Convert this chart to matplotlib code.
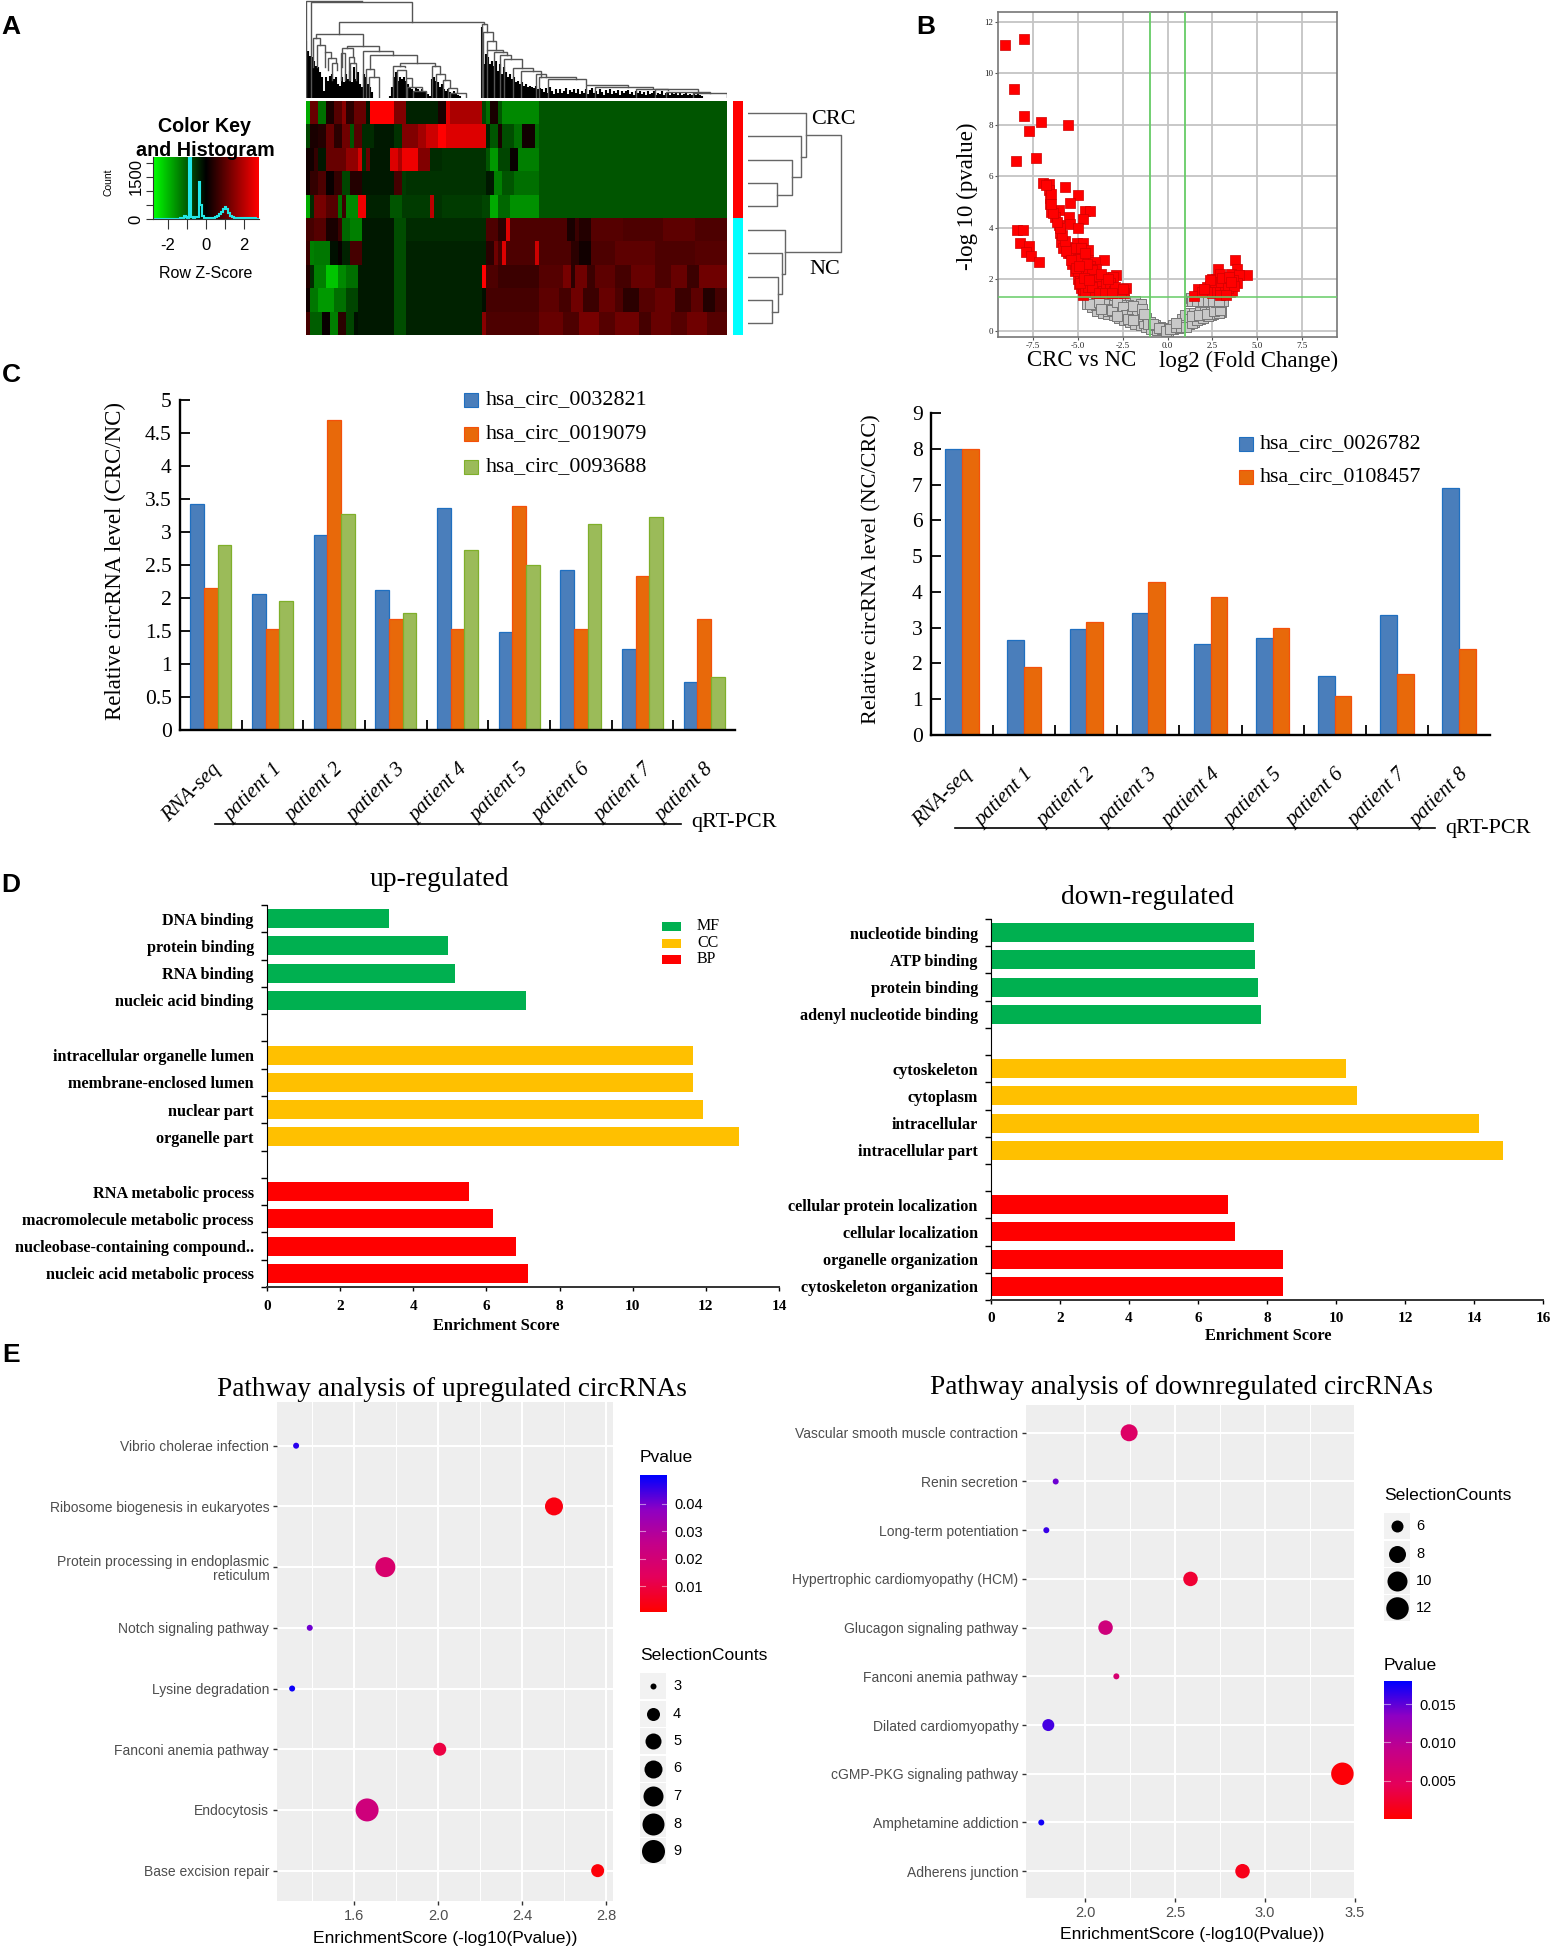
# panel figure: heatmap, volcano, qPCR bars, GO bars, pathway bubbles
import numpy as np
import matplotlib
matplotlib.use("Agg")
import matplotlib.pyplot as plt
from matplotlib.colors import LinearSegmentedColormap
from matplotlib.patches import Rectangle
from matplotlib.transforms import ScaledTranslation

W, H = 1551, 1948
SERIF = "Liberation Serif"
SANS = "Liberation Sans"

# ---- A: heatmap, run lengths of (z score, columns) per row
LEFT_ROWS = [
    [(-2, 1), (1.2, 2), (-1.3, 2), (0.3, 2), (1.0, 2), (1.6, 1), (0.5, 2), (1.2, 3), (-0.3, 1), (3, 6), (1.5, 3), (-0.4, 8), (0.3, 2), (2.6, 1), (2.0, 8), (-0.8, 1), (-1.3, 1), (0.3, 2), (-1, 1), (-1.6, 9)],
    [(-0.8, 1), (0.3, 2), (0.4, 2), (1.2, 2), (0.5, 2), (1.3, 2), (-1, 1), (1, 2), (-0.5, 3), (-0.3, 5), (-0.6, 2), (1.5, 4), (1.9, 2), (2.4, 3), (3, 2), (2.6, 10), (-0.4, 1), (-1, 2), (0.3, 1), (-0.9, 3), (-1.3, 2), (0.2, 3), (-1.3, 1)],
    [(0.2, 2), (0.6, 1), (-0.3, 2), (1.2, 5), (1.7, 3), (2.5, 1), (-0.5, 1), (1.2, 1), (-0.3, 5), (2.6, 2), (2, 1), (2.8, 4), (1.5, 3), (-0.5, 3), (-0.6, 11), (-1, 1), (-1.8, 2), (-0.8, 3), (0.1, 2), (-1.5, 5)],
    [(0.2, 1), (0.6, 2), (0.9, 2), (0.1, 2), (0.6, 2), (-0.8, 2), (0.4, 3), (-0.3, 8), (0.8, 2), (-0.7, 1), (-0.6, 20), (-0.3, 2), (-1.5, 2), (-1, 3), (-1.3, 6)],
    [(-2, 1), (-0.5, 1), (1.4, 3), (1, 3), (-1.3, 1), (0.7, 1), (-1.6, 3), (2.8, 2), (-0.4, 6), (-1, 3), (-0.7, 7), (2.2, 1), (-0.6, 2), (-0.7, 10), (-0.8, 2), (-2, 2), (-1.2, 3), (-1.7, 7)],
    [(0.8, 2), (1, 3), (0.3, 3), (0.7, 1), (-1.2, 2), (-1.5, 3), (-0.3, 8), (-0.9, 3), (-0.5, 20), (0.9, 3), (0.5, 2), (2.6, 1), (0.9, 7)],
    [(0.7, 1), (-1.5, 1), (-1.4, 4), (-0.2, 2), (0.1, 1), (-0.4, 2), (0.8, 3), (-0.3, 8), (-0.9, 3), (-0.4, 20), (0.5, 2), (1.3, 1), (0.8, 1), (2.6, 1), (0.9, 7), (2.4, 1)],
    [(0.4, 1), (-0.5, 1), (-1.5, 3), (-2.3, 3), (-1.6, 2), (-1.3, 3), (-0.3, 9), (-0.9, 3), (-0.4, 19), (3, 1), (0.9, 3), (0.7, 10)],
    [(0.2, 1), (-1.4, 2), (-1.8, 4), (-1.3, 3), (-0.8, 3), (-0.3, 9), (-0.9, 3), (-0.4, 19), (-0.2, 1), (0.8, 13)],
    [(0.8, 1), (-1.1, 3), (0.1, 2), (-1.5, 2), (0.5, 2), (-0.8, 2), (-0.2, 1), (-0.3, 9), (-0.9, 3), (-0.4, 19), (1.6, 1), (0.9, 13)],
]
RIGHT_ROWS = [
    [(-1.0, 47)], [(-1.0, 47)], [(-1.0, 47)], [(-1.0, 47)], [(-1.0, 47)],
    [(0.9, 7), (0.3, 2), (0.7, 1), (0.4, 3), (1.0, 8), (0.9, 10), (1.1, 8), (0.9, 8)],
    [(0.9, 8), (0.5, 2), (0.2, 3), (0.9, 6), (1.1, 10), (0.9, 10), (1.0, 8)],
    [(1.0, 6), (1.4, 2), (0.5, 1), (1.3, 3), (0.7, 2), (1.1, 5), (0.8, 4), (1.2, 6), (0.9, 4), (1.2, 4), (0.7, 3), (1.3, 7)],
    [(1.1, 5), (0.8, 3), (1.3, 3), (0.7, 4), (1.2, 4), (0.9, 2), (0.5, 4), (1.0, 4), (1.2, 5), (0.7, 4), (1.1, 3), (0.4, 3), (0.8, 3)],
    [(1.2, 6), (0.9, 4), (1.4, 5), (1.0, 4), (1.3, 6), (0.8, 3), (1.2, 5), (1.0, 4), (1.3, 5), (1.0, 5)],
]

# top dendrogram: (left, right, top, left end, right end)
COL_BRACKETS = [
    (19, 185, 3, 292, 3), (33, 337, 6, 292, 65), (118, 552, 65, 103, 72), (48, 188, 103, 115, 138),
    (40, 60, 115, 200, 135), (52, 75, 135, 200, 155), (75, 92, 155, 200, 175), (85, 108, 175, 210, 185),
    (95, 112, 188, 240, 210), (140, 237, 138, 145, 152), (125, 160, 145, 200, 170), (122, 135, 158, 240, 240),
    (148, 162, 172, 240, 190), (150, 168, 190, 240, 240), (190, 280, 152, 292, 165), (210, 352, 165, 207, 188),
    (198, 222, 208, 292, 232), (208, 236, 232, 292, 292), (300, 405, 189, 197, 198), (278, 315, 198, 292, 202),
    (290, 318, 210, 292, 230), (318, 335, 233, 292, 262), (322, 365, 262, 292, 270), (340, 378, 272, 292, 292),
    (395, 420, 198, 292, 222), (408, 435, 222, 292, 240), (430, 450, 240, 292, 262), (445, 470, 263, 292, 275),
    (450, 497, 278, 292, 292), (545, 560, 73, 292, 97), (548, 578, 97, 292, 122), (562, 587, 122, 150, 150),
    (560, 610, 149, 292, 155), (582, 620, 155, 292, 165), (600, 632, 165, 292, 178), (612, 668, 177, 292, 205),
    (640, 700, 205, 292, 212), (665, 725, 212, 292, 230), (710, 740, 222, 292, 230), (718, 828, 232, 292, 238),
    (745, 858, 238, 292, 252), (860, 985, 255, 292, 262), (885, 1060, 262, 292, 265), (1010, 1105, 266, 292, 270),
    (1065, 1195, 268, 292, 275), (1100, 1230, 275, 292, 280), (1180, 1282, 280, 292, 290),
]
# dense stems under the brackets, one every 6 units
COL_STEMS = [
    170, 140, 125, 120, 110, 95, 90, 75, 60,
    20, 60, 50, 65, 70, 55, 60, 40,
    35, 60, 45, 70, 55, 80, 45, 90, 55, 75, 40,
    30, 70, 60, 40, 30, 15,
    0, 0, 0, 0, 0, 0, 0, 0, 5,
    30, 60, 75, 50, 60, 55, 60, 50, 40, 30,
    25, 20, 30, 25, 20, 25, 20, 15, 10, 5,
    55, 60, 50, 45, 30, 40, 25, 20,
    25, 15, 12, 20, 10, 8, 5, 0, 0, 0, 0, 0, 0, 0, 0, 0, 0,
    210, 100,
    130, 120, 100, 110, 95, 110, 80, 100, 70, 90, 75, 60, 70, 55, 60, 45,
    50, 40, 45, 35, 40, 30, 35, 30, 28, 35, 25, 28,
    25, 15, 28, 12, 30, 18, 10, 24, 14, 26, 12, 20, 28, 10, 22, 16, 26, 12, 24, 10, 20, 14, 24, 10,
    22, 28, 12, 20, 10, 24, 16, 8, 22, 12, 26, 10, 18, 14, 22, 8, 20, 12, 18, 22, 10, 16, 8, 20, 12,
    18, 10, 16, 8, 20, 10, 14, 18, 8, 14, 10, 18, 8, 12, 16, 8, 12, 10, 14, 6, 12, 8, 10, 14, 6, 10,
    8, 12, 6, 10, 8, 5,
]
# row dendrogram: (cluster a, cluster b, height); new clusters count on from 10
ROW_MERGES = [(3, 4, 29), (2, 10, 44), (1, 11, 53), (0, 12, 58),
              (8, 9, 24), (7, 14, 30), (6, 15, 34), (5, 16, 37), (13, 17, 93)]

KEY_COUNTS = [5, 5, 5, 5, 5, 5, 5, 5, 5, 5, 5, 5, 5, 15, 40, 25, 110, 60, 40, 2150, 60, 50, 60, 70,
              1300, 500, 120, 50, 40, 30, 25, 30, 40, 60, 100, 180, 250, 350, 430, 350, 200, 110,
              60, 40, 30, 25, 25, 30, 20, 25, 20, 25, 20, 20, 25, 15, 10]

# ---- B: volcano
UP_X = [-9.03, -7.95, -8.55, -7.95, -7.05, -5.53, -7.7, -8.43, -7.32, -8.34, -8.04, -8.2, -7.7, -7.85, -7.6, -7.15,
        -6.9, -6.6, -6.6, -6.55, -6.55, -6.45, -6.05, -6.25, -6.05, -6, -5.9, -5.8, -5.55, -5.3, -5.15, -4.95, -4.8, -4.7,
        -5.67, -5, -5.4, -4.6, -4.3, -4.7, -5.5, -5.4, -4.95, -5.05, -4.7, -4.4, -4.85, -3.55, -4.4, -4.05, -4.3, -3.95,
        -4.7, -4.2, -3.5, -2.85, -3.05, -4.3, -4, -3.55, -4.5, -4.7, -4.1, -3.5, -3.15, -2.75, -2.3, -3.75, -3.3, -2.85,
        -2.4, -3.95, -4.3, -4.85, -4.5, -5.05, -5.6, -5.2, -4.7,
        -4.9, -4.7, -4.6, -4.4, -4.2, -4.1, -3.8, -3.7, -3.9, -3.6, -3.4, -3.2, -3.0, -2.6, -2.9, -4.6, -4.4, -4.2, -5.0, -5.2,
        -5.4, -5.0, -5.1, -4.8, -4.6, -4.5, -5.7, -5.85, -5.95, -6.15, -6.35, -6.45, -6.5, -6.75, -5.65, -5.35, -5.1, -4.85,
        -4.9, -4.65, -4.35, -3.8, -3.45, -3.1, -2.5, -3.3,
        3.75, 2.8, 3.85, 4.4, 3.55, 2.7, 3.2, 3.95, 2.35, 1.7, 2.2, 2.8, 3.45, 3.85, 3, 2.45, 3.45, 1.45, 2.55, 3.3, 3.65, 3.1, 2.5, 2.9,
        2.6, 2.9, 3.2, 3.6, 2.2, 1.9, 2.65, 3, 3.35, 3.05, 3.4, 3.7, 2.9, 3.25, 2.35, 3.55, 2.05]
UP_Y = [11.1, 11.35, 9.4, 8.33, 8.1, 8.0, 7.75, 6.6, 6.7, 3.9, 3.9, 3.4, 3.3, 3.05, 2.9, 2.65,
        5.75, 5.7, 5.45, 5.15, 4.9, 4.6, 4.7, 4.4, 4.1, 3.8, 3.45, 3.2, 3, 2.6, 2.3, 2, 1.65, 1.4,
        5.58, 5.25, 4.95, 4.65, 4.65, 4.35, 4.4, 4.15, 4, 3.4, 3.4, 3.15, 2.9, 2.75, 2.75, 2.65, 2.5, 2.4,
        2.35, 2.15, 2.1, 2.15, 2.1, 1.9, 1.9, 1.85, 1.75, 1.6, 1.6, 1.6, 1.65, 1.6, 1.65, 1.7, 1.5, 1.45,
        1.45, 1.45, 1.5, 2.1, 2.1, 2.55, 3.25, 2.95, 2.75,
        1.8, 1.9, 2.3, 2.4, 2.35, 2.0, 2.0, 2.2, 1.75, 1.55, 1.8, 1.85, 1.55, 1.5, 1.7, 1.5, 1.7, 1.7, 2.3, 2.8,
        3.0, 2.8, 3.2, 3.2, 3.0, 2.6, 3.5, 3.7, 4.0, 4.2, 4.55, 4.9, 5.3, 5.65, 3.1, 2.75, 2.45, 1.85,
        2.5, 2.05, 1.95, 1.45, 1.45, 1.45, 1.6, 2.0,
        2.75, 2.4, 2.4, 2.15, 2.2, 2, 2, 2.15, 1.75, 1.6, 1.7, 1.75, 1.7, 1.85, 1.5, 1.45, 1.5, 1.35, 1.7, 1.85, 1.97, 1.75, 2, 2.2,
        1.5, 1.55, 1.6, 1.55, 1.5, 1.5, 1.9, 1.9, 1.65, 2.05, 2.1, 1.75, 1.4, 1.4, 1.95, 1.9, 1.6]
NS_X = [-4.5, -4.2, -3.9, -3.6, -3.3, -3, -2.7, -2.4, -2.1, -1.8, -1.5,
        -4.5, -4.2, -3.9, -3.6, -3.3, -3, -2.7, -2.4, -2.1, -1.8, -1.5, -1.2, -0.9, -0.6, -0.3, 0,
        -4, -3.6, -3.2, -3.5, -3, -2.7, -2.4, -2.1, -1.8, -2.2, -2.6, -1.5, -1.6, -1.2, -1, -1.3, -2.1, -2.5, -2.9, -3.3,
        -0.7, -0.4, -0.2, 0,
        -4.3, -3.8, -3.4, -3.1, -2.8, -2.5, -2.3, -2, -1.9, -1.7, -1.4, -1.3, -1.1, -0.8, -0.5, -0.1, -2.8, -2.2, -1.9, -3.7,
        0.3, 0.6, 0.9, 1.2, 1.5, 1.8, 2.1, 2.4, 2.7, 3, 0.3, 0.6, 0.8, 1, 1.2, 1.5, 1.8, 2.1, 2.4, 2.7, 3, 1.2, 1.6, 2,
        0.15, 0.45, 0.75, 1.05, 1.35, 1.65, 1.95, 2.25, 2.55, 2.85, 0.45, 1.35, 1.75, 2.2, 2.6, 2.9,
        1.2, 1.5, 1.8, 2.1, 2.4, 2.7, 3, 3.1, 1.3, 1.7, 1.35, 1.65, 1.95, 2.25, 2.55, 2.85]
NS_Y = [1.2, 1.2, 1.2, 1.2, 1.2, 1.2, 1.2, 1.2, 1.15, 1.15, 1.05,
        1.05, 0.9, 0.75, 0.68, 0.65, 0.6, 0.5, 0.42, 0.35, 0.25, 0.2, 0.12, 0.08, 0.03, 0.05, -0.02,
        1.0, 0.95, 0.9, 1.05, 1.0, 0.85, 0.75, 0.8, 0.75, 1.0, 1.0, 0.65, 0.45, 0.5, 0.35, 0.3, 0.55, 0.6, 0.75, 0.75,
        0.2, 0.15, 0.1, 0.05,
        1.05, 1.1, 0.85, 0.8, 1.1, 0.9, 0.6, 0.65, 0.95, 0.55, 0.85, 0.65, 0.25, 0.25, 0.1, 0.0, 0.55, 0.45, 0.4, 0.82,
        0.05, 0.1, 0.2, 0.25, 0.35, 0.45, 0.55, 0.62, 0.68, 0.72, 0.2, 0.3, 0.45, 0.6, 0.7, 0.7, 0.72, 0.72, 0.72, 0.72, 0.75, 0.45, 0.55, 0.6,
        0.05, 0.15, 0.12, 0.15, 0.3, 0.4, 0.5, 0.58, 0.65, 0.7, 0.28, 0.55, 0.6, 0.66, 0.75, 0.78,
        1.15, 1.15, 1.15, 1.15, 1.15, 1.12, 1.12, 1.15, 1.25, 1.3, 1.15, 1.15, 1.15, 1.15, 1.15, 1.15]

# ---- C: qPCR bars
GROUPS = ["RNA-seq", "patient 1", "patient 2", "patient 3", "patient 4", "patient 5", "patient 6", "patient 7", "patient 8"]
CIRC_0032821 = [3.42, 2.06, 2.95, 2.12, 3.36, 1.48, 2.42, 1.23, 0.73]
CIRC_0019079 = [2.15, 1.53, 4.7, 1.68, 1.53, 3.4, 1.53, 2.34, 1.68]
CIRC_0093688 = [2.8, 1.95, 3.28, 1.78, 2.72, 2.5, 3.12, 3.22, 0.8]
CIRC_0026782 = [8, 2.65, 2.95, 3.42, 2.55, 2.7, 1.65, 3.35, 6.9]
CIRC_0108457 = [8, 1.9, 3.15, 4.27, 3.85, 3, 1.1, 1.7, 2.4]

# ---- D: GO enrichment, top to bottom, None leaves a gap
UP_TERMS = ["DNA binding", "protein binding", "RNA binding", "nucleic acid binding", None,
            "intracellular organelle lumen", "membrane-enclosed lumen", "nuclear part", "organelle part", None,
            "RNA metabolic process", "macromolecule metabolic process", "nucleobase-containing compound..", "nucleic acid metabolic process"]
UP_SCORES = [3.33, 4.95, 5.13, 7.07, None, 11.65, 11.65, 11.93, 12.9, None, 5.52, 6.17, 6.8, 7.14]
DOWN_TERMS = ["nucleotide binding", "ATP binding", "protein binding", "adenyl nucleotide binding", None,
              "cytoskeleton", "cytoplasm", "intracellular", "intracellular part", None,
              "cellular protein localization", "cellular localization", "organelle organization", "cytoskeleton organization"]
DOWN_SCORES = [7.62, 7.65, 7.75, 7.82, None, 10.3, 10.62, 14.15, 14.85, None, 6.87, 7.08, 8.45, 8.47]

# ---- E: pathways
UP_PATHS = ["Vibrio cholerae infection", "Ribosome biogenesis in eukaryotes", "Protein processing in endoplasmic\nreticulum",
            "Notch signaling pathway", "Lysine degradation", "Fanconi anemia pathway", "Endocytosis", "Base excision repair"]
UP_ENRICH = [1.324, 2.552, 1.749, 1.389, 1.305, 2.008, 1.662, 2.76]
UP_COUNTS = [3, 6, 7, 3, 3, 4, 9, 4]
UP_P = [0.047, 0.0028, 0.0178, 0.0408, 0.0495, 0.0098, 0.0218, 0.0017]
DOWN_PATHS = ["Vascular smooth muscle contraction", "Renin secretion", "Long-term potentiation", "Hypertrophic cardiomyopathy (HCM)",
              "Glucagon signaling pathway", "Fanconi anemia pathway", "Dilated cardiomyopathy", "cGMP-PKG signaling pathway",
              "Amphetamine addiction", "Adherens junction"]
DOWN_ENRICH = [2.245, 1.837, 1.785, 2.586, 2.114, 2.174, 1.796, 3.43, 1.757, 2.875]
DOWN_COUNTS = [8, 5, 5, 7, 7, 5, 6, 12, 5, 7]
DOWN_P = [0.0056, 0.0145, 0.0162, 0.0026, 0.0076, 0.0066, 0.0158, 0.0004, 0.0174, 0.0013]
UP_SIZE_LEVELS = [3, 4, 5, 6, 7, 8, 9]
UP_SIZE_PX = [6, 13, 16, 18, 20, 22, 23]
DOWN_SIZE_LEVELS = [5, 6, 7, 8, 10, 12]
DOWN_SIZE_PX = [6, 12, 14.5, 17, 20, 22.5]

GREEN, AMBER, RED = "#00B050", "#FFC000", "#FF0000"
GO_COLORS = [GREEN] * 5 + [AMBER] * 5 + [RED] * 4
BLUE_BAR = ("#4A7EBB", "#1F6FC0")
ORANGE_BAR = ("#E8690A", "#F4500A")
GREEN_BAR = ("#9BBB59", "#7FAF2A")

fig = plt.figure(figsize=(W / 100, H / 100), dpi=100, facecolor="white")


def ax_px(x0, y0, x1, y1, **kw):
    # axes box given in image pixels, y going down
    return fig.add_axes([x0 / W, 1 - y1 / H, (x1 - x0) / W, (y1 - y0) / H], **kw)


def px_pt(p):
    return p * 0.72


over = ax_px(0, 0, W, H, zorder=20)
over.set_xlim(0, W)
over.set_ylim(H, 0)
over.axis("off")
over.patch.set_alpha(0)


def label(x, y, s, size, family=SERIF, ha="center", va="center", **kw):
    over.text(x, y, s, fontsize=size, family=family, ha=ha, va=va, **kw)


for letter, lx, ly in [("A", 11, 27), ("B", 926, 27), ("C", 11, 375), ("D", 11, 885), ("E", 11, 1355)]:
    label(lx, ly, letter, 19, family=SANS, fontweight="bold")

# ---------------- A
heat_cmap = LinearSegmentedColormap.from_list("gkr", ["#00FF00", "#000000", "#FF0000"])
heat = np.array([np.repeat([r[0] for r in a + b], [r[1] for r in a + b]) for a, b in zip(LEFT_ROWS, RIGHT_ROWS)], dtype=float)
ax = ax_px(306, 101, 727, 335)
ax.imshow(heat, cmap=heat_cmap, vmin=-3, vmax=3, aspect="auto", interpolation="nearest")
ax.axis("off")

ax = ax_px(306, 0, 727, 97.5)
ax.set_xlim(18, 1282)
ax.set_ylim(292, 0)
ax.axis("off")
stem_x = 18 + 6 * np.arange(len(COL_STEMS))
ax.vlines(stem_x, 292, 292 - np.array(COL_STEMS), color="#000000", lw=px_pt(2.1))
for xl, xr, top, yl, yr in COL_BRACKETS:
    ax.plot([xl, xl, xr, xr], [yl, top, top, yr], color="#555555", lw=px_pt(1.4), solid_joinstyle="miter")

ax = ax_px(733, 101, 743, 335)
ax.imshow([[0]] * 5 + [[1]] * 5, cmap=LinearSegmentedColormap.from_list("side", [RED, "#00FFFF"]), aspect="auto", interpolation="nearest")
ax.axis("off")

ax = ax_px(748, 101, 845, 335)
ax.set_xlim(0, 97)
ax.set_ylim(9.5, -0.5)
ax.axis("off")
centers = {i: (float(i), 0.0) for i in range(10)}
for k, (a, b, h) in enumerate(ROW_MERGES):
    ya, ha_ = centers[a]
    yb, hb = centers[b]
    ax.plot([ha_, h, h, hb], [ya, ya, yb, yb], color="#666666", lw=px_pt(1.4))
    centers[10 + k] = ((ya + yb) / 2, h)
label(833, 120, "CRC", 16)
label(825, 269, "NC", 16)

ax = ax_px(153, 157, 259, 219)
z = np.linspace(-2.8, 2.8, 200)
ax.imshow(z[None, :], cmap=heat_cmap, vmin=-2.8, vmax=2.8, aspect="auto", extent=(-2.8, 2.8, 0, 2200))
edges = -2.8 + 0.1 * np.arange(len(KEY_COUNTS) + 1)
edges = edges * 5.6 / (edges[-1] - edges[0])
ax.stairs(KEY_COUNTS, edges, color="#22E8E8", lw=1.5)
for s in ["top", "right"]:
    ax.spines[s].set_visible(False)
ax.spines["left"].set_color("#333333")
ax.spines["bottom"].set_color("#333333")
ax.set_xlim(-2.8, 2.8)
ax.set_ylim(0, 2200)
ax.set_xticks([-2, -1, 0, 1, 2], ["-2", "", "0", "", "2"], fontsize=12, family=SANS)
ax.set_yticks([0, 500, 1000, 1500, 2000], ["0", "", "", "1500", ""], fontsize=12, family=SANS, rotation=90, va="center")
ax.tick_params(axis="x", length=7, pad=7, color="#333333")
ax.tick_params(axis="y", length=5, pad=2, color="#333333")
label(205, 126, "Color Key", 14.2, family=SANS, fontweight="bold")
label(205, 150, "and Histogram", 14.2, family=SANS, fontweight="bold")
label(206, 274, "Row Z-Score", 11.5, family=SANS)
label(109, 182, "Count", 7.5, family=SANS, rotation=90)

# ---------------- B
ax = ax_px(998, 12, 1337, 337)
ax.set_xlim(-9.42, 9.42)
ax.set_ylim(-0.25, 12.38)
ax.set_axisbelow(True)
ax.grid(color="#C4C4C4", lw=1.3)
ax.set_xticks(np.arange(-7.5, 8, 2.5))
ax.set_yticks(np.arange(0, 13, 2))
ax.set_xticklabels([f"{v:.1f}" for v in np.arange(-7.5, 8, 2.5)], fontsize=6.5, family=SERIF)
ax.set_yticklabels([str(v) for v in range(0, 13, 2)], fontsize=6.5, family=SERIF)
ax.tick_params(length=2, pad=1.5, color="#555555", labelcolor="#222222")
for s in ax.spines.values():
    s.set_color("#777777")
    s.set_linewidth(1.2)
ax.scatter(NS_X, NS_Y, marker="s", s=42, color="#C8C8C8", edgecolor="#777777", linewidth=0.7, zorder=3)
ax.scatter(UP_X, UP_Y, marker="s", s=44, color="#FF0000", edgecolor="#D00000", linewidth=0.5, zorder=4)
for xv in [-1, 1]:
    ax.axvline(xv, color="#66CC66", lw=1.3, zorder=5)
ax.axhline(1.3, color="#66CC66", lw=1.1, zorder=5)
label(967, 196, "-log 10 (pvalue)", 16.5, rotation=90)
label(1082, 361, "CRC vs NC", 16.5)
label(1249, 361, "log2 (Fold Change)", 16.5)


# ---------------- C
def qpcr_panel(box, series, styles, bar_w, ymax, yticks, ylab, ylab_size, ylab_xy, names, leg_x, leg_text_x, leg_y, line, qrt_xy):
    ax = ax_px(*box)
    x = np.arange(len(GROUPS))
    n = len(series)
    for i, (vals, st) in enumerate(zip(series, styles)):
        ax.bar(x + (i - (n - 1) / 2) * bar_w, vals, bar_w, color=st[0], edgecolor=st[1], linewidth=0.9)
    ax.set_xlim(-0.5, len(GROUPS) - 0.5)
    ax.set_ylim(0, ymax)
    ax.set_yticks(yticks, [f"{v:g}" for v in yticks], fontsize=15.5, family=SERIF)
    ax.set_xticks(x, GROUPS, fontsize=15, family=SERIF, style="italic", rotation=45, ha="right", rotation_mode="anchor")
    shift = ScaledTranslation(-5 / 100, 0, fig.dpi_scale_trans)
    for lab in ax.get_xticklabels():
        lab.set_transform(lab.get_transform() + shift)
    ax.set_xticks(x[:-1] + 0.5, minor=True)
    ax.tick_params(axis="x", which="major", length=0, pad=22)
    ax.tick_params(axis="x", which="minor", length=7, direction="in", width=1.3)
    ax.tick_params(axis="y", length=7, direction="in", width=1.3, pad=6)
    for s in ["top", "right"]:
        ax.spines[s].set_visible(False)
    for s in ["left", "bottom"]:
        ax.spines[s].set_linewidth(1.7)
    label(ylab_xy[0], ylab_xy[1], ylab, ylab_size, rotation=90)
    for nm, st, ly in zip(names, styles, leg_y):
        over.add_patch(Rectangle((leg_x, ly - 7), 14, 14, facecolor=st[0], edgecolor=st[1], lw=0.8))
        label(leg_text_x, ly, nm, 15.8, ha="left")
    over.plot(line[:2], [line[2]] * 2, color="black", lw=1.2)
    label(qrt_xy[0], qrt_xy[1], "qRT-PCR", 16, ha="left")


qpcr_panel((180, 400, 735, 730), [CIRC_0032821, CIRC_0019079, CIRC_0093688], [BLUE_BAR, ORANGE_BAR, GREEN_BAR], 0.22, 5,
           [0, 0.5, 1, 1.5, 2, 2.5, 3, 3.5, 4, 4.5, 5], "Relative circRNA level (CRC/NC)", 16.5, (115, 561),
           ["hsa_circ_0032821", "hsa_circ_0019079", "hsa_circ_0093688"], 464, 486, [400, 434, 467], (215, 681, 824), (691, 823))
qpcr_panel((931, 413, 1490, 735), [CIRC_0026782, CIRC_0108457], [BLUE_BAR, ORANGE_BAR], 0.27, 9,
           list(range(10)), "Relative circRNA level (NC/CRC)", 16, (872, 569),
           ["hsa_circ_0026782", "hsa_circ_0108457"], 1239, 1260, [444, 477], (955, 1435, 828), (1445, 828))


# ---------------- D
def go_panel(box, terms, scores, xmax, title, title_xy, xlab_xy):
    ax = ax_px(*box)
    y = np.arange(len(terms))
    for yi, v, c in zip(y, scores, GO_COLORS):
        if v is not None:
            ax.barh(yi, v, 0.7, color=c)
    ax.set_xlim(0, xmax)
    ax.set_ylim(len(terms) - 0.5, -0.5)
    ax.set_yticks([i for i, t in zip(y, terms) if t], [t for t in terms if t], fontsize=11.7, family=SERIF, fontweight="bold", va="center_baseline")
    ax.set_yticks(np.arange(len(terms) + 1) - 0.5, minor=True)
    ax.set_xticks(np.arange(0, xmax + 1, 2), [str(v) for v in range(0, xmax + 1, 2)], fontsize=11, family=SERIF, fontweight="bold")
    ax.tick_params(axis="y", which="major", length=0, pad=9.5)
    ax.tick_params(axis="y", which="minor", length=4, width=1)
    ax.tick_params(axis="x", length=3, width=1, pad=6)
    for s in ["top", "right"]:
        ax.spines[s].set_visible(False)
    ax.spines["bottom"].set_color("#333333")
    ax.spines["bottom"].set_linewidth(1.4)
    label(title_xy[0], title_xy[1], title, 19.8)
    label(xlab_xy[0], xlab_xy[1], "Enrichment Score", 11.8, fontweight="bold")
    return ax


go_panel((267, 905, 779, 1287), UP_TERMS, UP_SCORES, 14, "up-regulated", (439, 880), (496, 1326))
go_panel((991, 919, 1543, 1300), DOWN_TERMS, DOWN_SCORES, 16, "down-regulated", (1147, 898), (1268, 1336))
for nm, c, ly in zip(["MF", "CC", "BP"], [GREEN, AMBER, RED], [926, 943, 959]):
    over.add_patch(Rectangle((662, ly - 4.5), 19, 9, facecolor=c, edgecolor="none"))
    label(697, ly, nm, 11.5, ha="left")

# ---------------- E
path_cmap = LinearSegmentedColormap.from_list("rb", ["#FF0000", "#E5005A", "#C4008A", "#8E00C4", "#0000FF"])


def path_panel(box, names, enrich, counts, pvals, levels, px, xlim, xticks, minor, ylim, pmin, pmax, title, title_xy, xlab_xy):
    ax = ax_px(*box, facecolor="#EEEEEE")
    y = np.arange(len(names))
    ax.set_axisbelow(True)
    ax.scatter(enrich, y, s=px_pt(np.interp(counts, levels, px)) ** 2, c=pvals, cmap=path_cmap, vmin=pmin, vmax=pmax, linewidths=0, zorder=3)
    ax.set_xlim(*xlim)
    ax.set_ylim(*ylim)
    ax.set_yticks(y, names, fontsize=10, family=SANS, color="#4D4D4D", linespacing=1.0)
    ax.set_xticks(xticks, [f"{v:.1f}" for v in xticks], fontsize=10.5, family=SANS, color="#4D4D4D")
    ax.set_xticks(minor, minor=True)
    ax.tick_params(which="major", length=3, width=1, color="#333333", pad=2.5)
    ax.tick_params(which="minor", length=0)
    ax.grid(True, which="major", color="white", lw=1.5)
    ax.grid(True, which="minor", axis="x", color="white", lw=0.8)
    for s in ax.spines.values():
        s.set_visible(False)
    label(title_xy[0], title_xy[1], title, 19.6)
    label(xlab_xy[0], xlab_xy[1], "EnrichmentScore (-log10(Pvalue))", 12.6, family=SANS)


def colorbar_px(box, pmin, pmax, ticks, fmt, title_xy):
    ax = ax_px(*box)
    grad = np.linspace(pmax, pmin, 200)[:, None]
    ax.imshow(grad, cmap=path_cmap, vmin=pmin, vmax=pmax, aspect="auto", extent=(0, 1, pmin, pmax))
    ax.set_xticks([])
    ax.set_yticks(ticks, [fmt % t for t in ticks], fontsize=10.5, family=SANS)
    ax.yaxis.tick_right()
    ax.tick_params(axis="y", length=0, pad=5)
    for t in ticks:
        ax.plot([0, 0.2], [t, t], color="white", alpha=0.5, lw=0.8)
        ax.plot([0.8, 1], [t, t], color="white", alpha=0.5, lw=0.8)
    ax.set_xlim(0, 1)
    ax.set_ylim(pmin, pmax)
    for s in ax.spines.values():
        s.set_visible(False)
    label(title_xy[0], title_xy[1], "Pvalue", 12.6, family=SANS, ha="left")


def size_legend(levels, px, ys, xc, text_x, title_xy):
    label(title_xy[0], title_xy[1], "SelectionCounts", 12.6, family=SANS, ha="left")
    for lev, d, ly in zip(levels, px, ys):
        over.add_patch(Rectangle((xc - 13, ly - 13), 26, 26, facecolor="#F2F2F2", edgecolor="none"))
        over.scatter([xc], [ly], s=px_pt(d) ** 2, color="black", linewidths=0, zorder=3)
        label(text_x, ly, str(lev), 10.5, family=SANS, ha="left")


path_panel((277, 1402, 613, 1901), UP_PATHS, UP_ENRICH, UP_COUNTS, UP_P, UP_SIZE_LEVELS, UP_SIZE_PX, (1.233, 2.833),
           [1.6, 2.0, 2.4, 2.8], [1.4, 1.8, 2.2, 2.6], (7.5, -0.72), 0.0005, 0.0506,
           "Pathway analysis of upregulated circRNAs", (452, 1389), (445, 1938))
colorbar_px((640, 1475, 667, 1612), 0.0005, 0.0506, [0.01, 0.02, 0.03, 0.04], "%.2f", (640, 1458))
size_legend(UP_SIZE_LEVELS, UP_SIZE_PX, [1686, 1713.5, 1741, 1768.5, 1796, 1823.5, 1851], 653, 673, (640, 1656))

path_panel((1026, 1405, 1355, 1898), DOWN_PATHS, DOWN_ENRICH, DOWN_COUNTS, DOWN_P, DOWN_SIZE_LEVELS, DOWN_SIZE_PX, (1.672, 3.5),
           [2.0, 2.5, 3.0, 3.5], [2.25, 2.75, 3.25], (9.55, -0.57), 0.0, 0.018,
           "Pathway analysis of downregulated circRNAs", (1182, 1388), (1192, 1934))
colorbar_px((1384, 1681, 1412, 1819), 0.0, 0.018, [0.005, 0.010, 0.015], "%.3f", (1384, 1665))
size_legend([6, 8, 10, 12], [12, 17, 20, 22.5], [1526, 1553.5, 1581, 1608], 1397, 1416, (1384, 1495))

fig.savefig("out.png", dpi=100)
